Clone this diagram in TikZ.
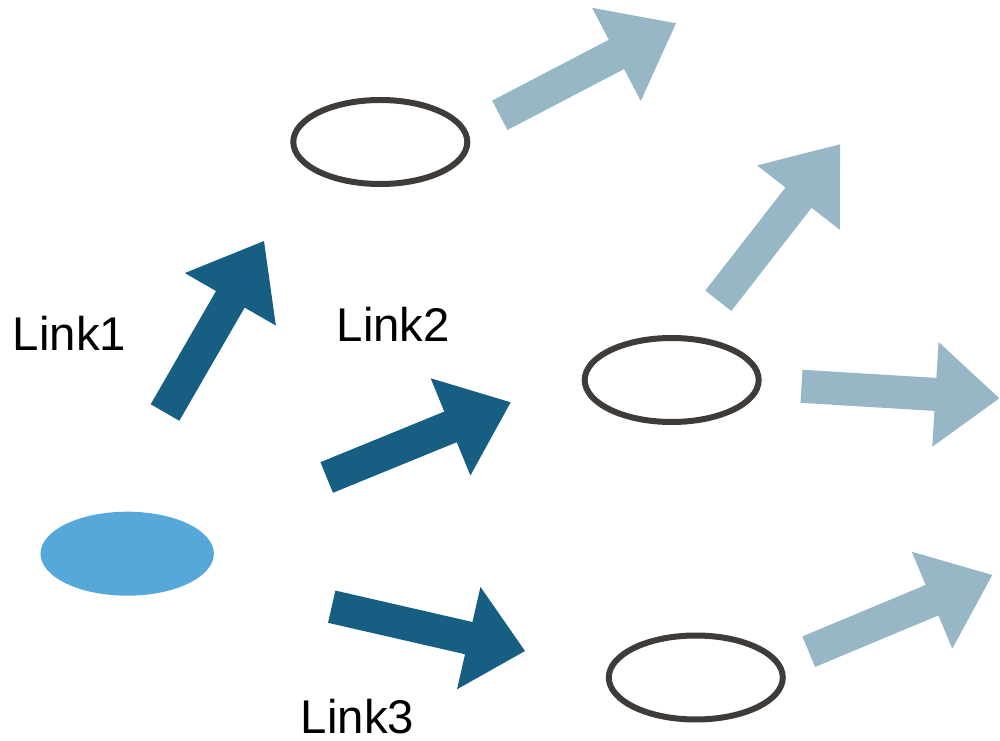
\documentclass[tikz,border=0pt]{standalone}
\usepackage{fontspec}
\setmainfont{Liberation Sans}
\usetikzlibrary{calc,shapes.geometric}

\definecolor{linkdark}{HTML}{175F82}
\definecolor{linklight}{HTML}{97B7C6}
\definecolor{seedfill}{HTML}{56A8DB}
\definecolor{ringline}{HTML}{3F3B38}

% half widths of the shaft and of the head of a block arrow
\newcommand\shafthalf{12.4pt}
\newcommand\headhalf{39.4pt}

% #1 fill colour, #2 tail coordinate, #3 tip coordinate, #4 head length
\newcommand\blockarrow[4]{%
  \coordinate (#2-neck) at ($(#3)!#4!(#2)$);
  \fill[#1] ($(#2)!\shafthalf!90:(#3)$)
    -- ($(#2-neck)!\shafthalf!90:(#3)$)
    -- ($(#2-neck)!\headhalf!90:(#3)$)
    -- (#3)
    -- ($(#2-neck)!\headhalf!-90:(#3)$)
    -- ($(#2-neck)!\shafthalf!-90:(#3)$)
    -- ($(#2)!\shafthalf!-90:(#3)$) -- cycle;}

\begin{document}
\begin{tikzpicture}[x=0.75pt,y=-0.75pt,
    peer/.style={ellipse, draw=ringline, line width=4.5pt,
      minimum width=130.5pt, minimum height=63pt, inner sep=0pt},
    seed/.style={ellipse, fill=seedfill,
      minimum width=130pt, minimum height=63pt, inner sep=0pt},
    linklabel/.style={anchor=base, inner sep=0pt,
      font=\fontsize{35.5pt}{40pt}\selectfont}]
\useasboundingbox (0,0) rectangle (1000,741);

% nodes
\node[seed] (src) at (127.2,553.7) {};
\node[peer] (p1) at (380.3,142) {};
\node[peer] (p2) at (671.7,380) {};
\node[peer] (p3) at (695.8,677.5) {};

% labels
\node[linklabel] (l1) at (69.5,350.7) {Link1};
\node[linklabel] (l2) at (393.3,341.7) {Link2};
\node[linklabel] (l3) at (357.5,733) {Link3};

% arrow ends
\coordinate (at) at (165,412.5);   \coordinate (ah) at (264,241);
\coordinate (bt) at (326.7,477.5); \coordinate (bh) at (510.7,402.3);
\coordinate (ct) at (331.7,606.7); \coordinate (ch) at (525,651);
\coordinate (dt) at (499.8,115.3); \coordinate (dh) at (676,23.3);
\coordinate (et) at (718.3,300.8); \coordinate (eh) at (840,144.3);
\coordinate (ft) at (801.5,386.3); \coordinate (fh) at (999.3,398.3);
\coordinate (gt) at (808.7,651.7); \coordinate (gh) at (992.3,575);

% first hop
\blockarrow{linkdark}{at}{ah}{50.5pt}
\blockarrow{linkdark}{bt}{bh}{48.75pt}
\blockarrow{linkdark}{ct}{ch}{43.3pt}

% onward hops
\blockarrow{linklight}{dt}{dh}{50.4pt}
\blockarrow{linklight}{et}{eh}{50.7pt}
\blockarrow{linklight}{ft}{fh}{48pt}
\blockarrow{linklight}{gt}{gh}{49pt}
\end{tikzpicture}
\end{document}
